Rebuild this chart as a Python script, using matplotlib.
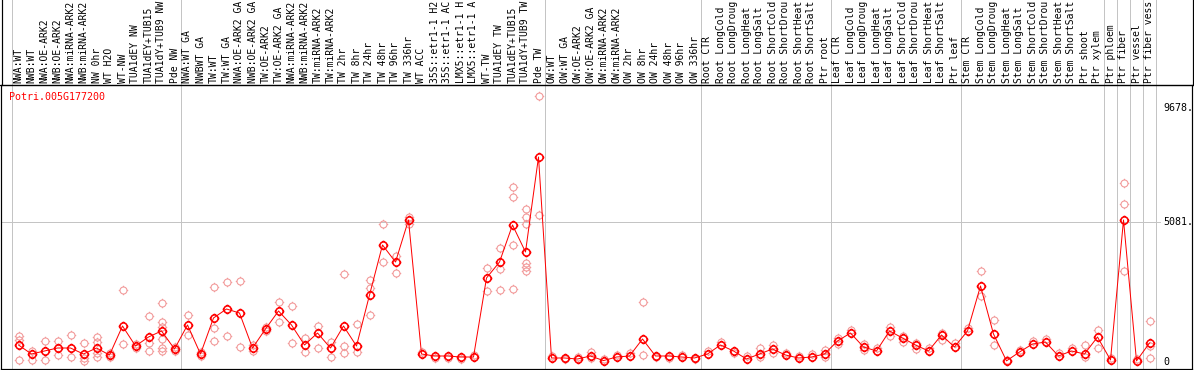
import numpy as np
import matplotlib
matplotlib.use('Agg')
import matplotlib.pyplot as plt
import matplotlib.transforms as mtransforms
from matplotlib.path import Path

gene = 'Potri.005G177200'

# sample names, as far as they show under the top edge
labels = ['NWA:WT', 'NWB:WT', 'NWA:OE-ARK2', 'NWB:OE-ARK2', 'NWA:miRNA-ARK2', 'NWB:miRNA-ARK2',
          'NW 0hr', 'WT H2O', 'WT-NW', 'TUA1dEY NW', 'TUA1dEY+TUB15', 'TUA1dY+TUB9 NW', 'Pde NW',
          'NWA:WT GA', 'NWBWT GA', 'TW:WT', 'TW:WT GA', 'NWA:OE-ARK2 GA', 'NWB:OE-ARK2 GA',
          'TW:OE-ARK2', 'TW:OE-ARK2 GA', 'NWA:miRNA-ARK2', 'NWB:miRNA-ARK2', 'TW:miRNA-ARK2',
          'TW:miRNA-ARK2', 'TW 2hr', 'TW 8hr', 'TW 24hr', 'TW 48hr', 'TW 96hr', 'TW 336hr',
          'WT ACC', '35S::etr1-1 H2', '35S::etr1-1 AC', 'LMX5::etr1-1 H', 'LMX5::etr1-1 A',
          'WT-TW', 'TUA1dEY TW', 'TUA1dEY+TUB15', 'TUA1dY+TUB9 TW', 'Pde TW',
          'OW:WT', 'OW:WT GA', 'OW:OE-ARK2', 'OW:OE-ARK2 GA', 'OW:miRNA-ARK2', 'OW:miRNA-ARK2',
          'OW 2hr', 'OW 8hr', 'OW 24hr', 'OW 48hr', 'OW 96hr', 'OW 336hr',
          'Root CTR', 'Root LongCold', 'Root LongDroug', 'Root LongHeat', 'Root LongSalt',
          'Root ShortCold', 'Root ShortDrou', 'Root ShortHeat', 'Root ShortSalt', 'Ptr root',
          'Leaf CTR', 'Leaf LongCold', 'Leaf LongDroug', 'Leaf LongHeat', 'Leaf LongSalt',
          'Leaf ShortCold', 'Leaf ShortDrou', 'Leaf ShortHeat', 'Leaf ShortSalt', 'Ptr leaf',
          'Stem CTR', 'Stem LongCold', 'Stem LongDroug', 'Stem LongHeat', 'Stem LongSalt',
          'Stem ShortCold', 'Stem ShortDrou', 'Stem ShortHeat', 'Stem ShortSalt', 'Ptr shoot',
          'Ptr xylem', 'Ptr phloem', 'Ptr fiber', 'Ptr vessel', 'Ptr fiber vess']

means = [585, 256, 366, 475, 475, 256, 475, 219, 1279, 548, 877, 1097, 439,
         1316, 256, 1572, 1901, 1754, 475, 1170, 1828, 1316, 585, 1023, 475, 1279, 548,
         2412, 4240, 3618, 5154, 256, 183, 183, 146, 146, 3034, 3618, 4971, 3984, 7456,
         110, 110, 73, 183, 15, 146, 183, 804, 183, 183, 146, 110,
         256, 585, 366, 73, 256, 439, 219, 110, 146, 256,
         731, 1023, 512, 366, 1097, 841, 585, 366, 950, 512,
         1097, 2741, 987, 5, 329, 621, 694, 183, 366, 256, 877,
         37, 5154, 3, 658]

reps = [[914, 768, 37], [366, 37], [731, 37], [731, 219], [950, 146], [658, 110, 0],
        [877, 694, 292, 146], [292, 146], [2595, 621], [621, 475], [1645, 658, 366],
        [2120, 1425, 1243, 804, 475, 366], [512, 366],
        [1681, 950], [329, 183], [2705, 1206, 731], [2887, 914], [2924, 512], [585, 366],
        [1243, 1097], [2156, 1425], [2010, 658], [841, 329], [1279, 475], [694, 146],
        [3180, 548, 292], [1352, 329], [2961, 2668, 1681], [5007, 3618], [3838, 3216],
        [5263, 5007], [329], [110], [110], [73], [219], [3399, 2559], [4130, 3363, 2595],
        [6360, 5994, 4240, 2632], [5556, 5263, 5007, 3582, 3436, 3290], [9678, 5336],
        [183], [73], [146], [329, 110], [73], [219], [292], [2156, 219], [146], [110], [219], [73],
        [366], [694], [292], [183], [475, 146], [585, 292], [292], [183], [256], [402, 146],
        [841, 621], [1133], [621, 402], [475], [1243, 914], [914, 694], [658, 439], [475],
        [1023, 768], [658],
        [1206], [3290, 2376], [1499, 585], [37], [402], [731], [804], [292], [475], [585, 146],
        [1133, 475],
        [110], [6506, 5738, 3290], [73], [1462, 548, 110]]

group_last = [-1, 12, 40, 52, 62, 72, 83, 84, 85, 86, 87]
marks = [0, 5081, 9678]

W, H = 1194, 370
fig = plt.figure(figsize=(W / 100, H / 100), dpi=100)
px = 0.72  # one pixel in points

# axes spans the plot region below the header line
ax = fig.add_axes([1 / W, 1 / H, 1191 / W, 284 / H])
x = np.arange(len(labels))
step, x0 = 13.0, 18.5
ax.set_xlim((1 - x0) / step, (1192 - x0) / step)
scale = 36.55
ax.set_ylim(-(369 - 361) * scale, (361 - 85) * scale)
ax.set_xticks([])
ax.set_yticks([])
for s in ax.spines.values():
    s.set_color('black')
    s.set_linewidth(1.2 * px)

# circle with four little ticks
circ = Path.unit_circle()
t = 1.35
tick_v = [(0, 1), (0, t), (0, -1), (0, -t), (1, 0), (t, 0), (-1, 0), (-t, 0)]
tick_c = [Path.MOVETO, Path.LINETO] * 4
ticks = Path(tick_v, tick_c)
marker = Path.make_compound_path(circ, ticks)

fmono = 'DejaVu Sans Mono'
fs = 7.2
fs_lab = 7.0

# separators, full height
bt = mtransforms.blended_transform_factory(ax.transData, fig.transFigure)
for g in group_last:
    ax.plot([g + 0.5, g + 0.5], [1 / H, 1], transform=bt, color='#c4c4c4',
            lw=1 * px, clip_on=False, zorder=0)

ax.axhline(marks[1], xmin=0, xmax=(1160 - 1) / 1191, color='#c4c4c4', lw=1 * px, zorder=0)

# replicates
for i, r in enumerate(reps):
    ax.plot([i] * len(r), r, linestyle='none', marker=marker, markersize=6.8,
            markerfacecolor='none', markeredgecolor='#f29a9a', markeredgewidth=1.1 * px,
            zorder=2)

ax.plot(x, means, color='#ff0000', lw=1 * px, zorder=3)
ax.plot(x, means, linestyle='none', marker=marker, markersize=7.0,
        markerfacecolor='none', markeredgecolor='#ff0000', markeredgewidth=1.6 * px,
        zorder=4)

# header labels
for i, lab in enumerate(labels):
    ax.text(i, (H - 83) / H, lab, transform=bt, rotation=90, ha='center', va='bottom',
            family=fmono, fontsize=fs_lab, color='black', clip_on=False)

# header frame
fig.add_artist(plt.Line2D([0, 1], [(H - 85) / H] * 2, transform=fig.transFigure,
                          color='black', lw=1.2 * px))
for xx in [1.5 / W, 1192.5 / W]:
    fig.add_artist(plt.Line2D([xx, xx], [(H - 85) / H, 1], transform=fig.transFigure,
                              color='black', lw=1.2 * px))

fig.text(9 / W, (H - 97) / H, gene, color='#ff0000', family=fmono, fontsize=fs,
         ha='left', va='center')

# value labels on the right
yt = ax.get_yaxis_transform()
lx = (1163 - 1) / 1191
for m in marks:
    txt = str(m) if m == 0 else str(m) + '.'
    off = -12 if m == max(marks) else (-1 if m == 0 else 0)
    ax.annotate(txt, (lx, m), xycoords=yt, xytext=(0, off * px), textcoords='offset points',
                ha='left', va='center', family=fmono, fontsize=fs, color='black')

fig.savefig('out.png', dpi=100)
